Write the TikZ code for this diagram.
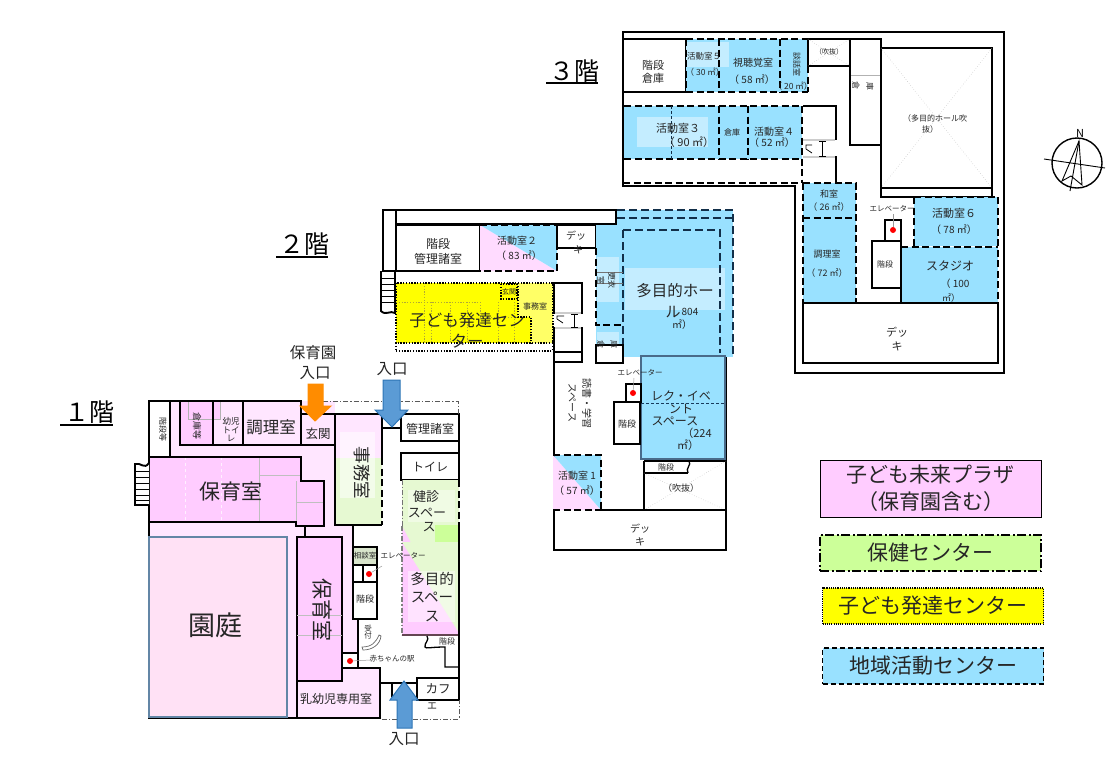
\documentclass[tikz,border=0pt]{standalone}
\usepackage{fontspec}
\setmainfont{Noto Sans CJK JP}
\definecolor{plazaDeep}{HTML}{FFCCFF}
\definecolor{plazaLight}{HTML}{FFE6FF}
\definecolor{gardenPink}{HTML}{FFE1F5}
\definecolor{healthGreen}{HTML}{CCFF99}
\definecolor{healthLight}{HTML}{E6F9D2}
\definecolor{growYellow}{HTML}{FFFF00}
\definecolor{growLight}{HTML}{FFFF66}
\definecolor{localBlue}{HTML}{99E1FF}
\definecolor{localLight}{HTML}{C4EDFF}
\definecolor{arrowBlue}{HTML}{5B9BD5}
\definecolor{arrowEdge}{HTML}{2E75B6}
\definecolor{arrowOrange}{HTML}{FF8C00}
\tikzset{
	wall/.style={draw=black,line width=1.9pt},
	thinwall/.style={draw=black,line width=1.3pt},
	dashwall/.style={draw=black,line width=1.9pt,dash pattern=on 7pt off 3.5pt},
	bluedash/.style={draw=black!60!arrowEdge,line width=1.7pt,dash pattern=on 8pt off 4pt},
	dotwall/.style={draw=black,line width=1.4pt,dash pattern=on 1.4pt off 1.4pt},
	griddot/.style={draw=olive!70!white,line width=.8pt,dash pattern=on 1.2pt off 1.6pt},
	dashdot/.style={draw=black!65,line width=1pt,dash pattern=on 5pt off 2pt on 1.2pt off 2pt},
	faint/.style={draw=black!25,line width=.5pt,dotted},
	lead/.style={draw=black!40,line width=.5pt},
	reddot/.style={circle,fill=red,inner sep=0,minimum size=6pt},
	tx/.style={inner sep=0,align=center,text=black!85,font=\fontsize{#1}{#1}\selectfont},
	rt/.style={tx=#1,rotate=-90},
	floorlabel/.style={inner sep=0,font=\fontsize{25}{25}\selectfont},
	downarrow/.style={draw=arrowEdge,fill=arrowBlue,line width=1pt},
	orangearrow/.style={draw=arrowOrange,fill=arrowOrange,line width=1pt},
	legendbox/.style={minimum width=221pt,inner sep=0,align=center,text=black!85,font=\fontsize{21}{27}\selectfont}
}
\begin{document}
\begin{tikzpicture}[x=1pt,y=-1pt]
\useasboundingbox (0,0) rectangle (1106,780);
% floor titles
\node[floorlabel] (fone) at (89,412) {１階};
\draw[thinwall] (60,425) -- (113,425);
\node[floorlabel] (ftwo) at (304,244) {２階};
\draw[thinwall] (276,257) -- (328,257);
\node[floorlabel] (fthree) at (574,71) {３階};
\draw[thinwall] (546,83) -- (598,83);

% 1st floor fills
\fill[plazaLight] (149,445) -- (335,445) -- (335,525) -- (353,525) -- (353,619) -- (358,619) -- (358,653) -- (342,653)
	-- (342,718) -- (149,718) -- cycle;
\fill[plazaLight] (170,401) rectangle (335,445);
\fill[plazaDeep] (149,457) -- (301,457) -- (301,481) -- (324,481) -- (324,526) -- (296,526) -- (296,522) -- (149,522) -- cycle;
\draw[draw=black!25,line width=.8pt] (259,457) -- (259,522) (259,475) -- (301,475) (296,481) -- (296,522) (296,502) -- (324,502);
\draw[draw=white!70!plazaDeep,line width=.8pt,dashed] (185,457) -- (185,522) (221,457) -- (221,522);
\fill[plazaDeep] (180,401) rectangle (213,445);
\draw[draw=black!30,line width=.8pt,fill=plazaDeep] (188,401) -- (188,419) -- (220,419) -- (220,401);
\draw[wall,fill=white] (149,401) rectangle (170,457);
\draw[wall] (180,401) rectangle (213,445);
\draw[wall] (213,401) rectangle (243,445);
\draw[wall] (243,401) rectangle (301,445);
\draw[wall] (149,457) -- (301,457) -- (301,481) -- (324,481) -- (324,526) -- (296,526) -- (296,522) -- (149,522) -- cycle;
\draw[wall] (170,401) -- (180,401);
\draw[thinwall] (301,414) -- (335,414) -- (335,445) -- (301,445);
% office
\fill[plazaLight] (335,414) rectangle (382,458);
\fill[healthLight] (335,458) rectangle (382,525);
\fill[white,opacity=.55] (340,432) rectangle (375,498);
\draw[wall] (382,458) -- (382,414) -- (335,414) -- (335,525) -- (382,525);
\draw[dashwall] (382,458) -- (382,525);
% stairs at the west side
\draw[wall,fill=white] (149,463) .. controls (144,470) and (141,462) .. (135,464) -- (135,505) -- (149,505);
\foreach \ry in {471,477,483,489,495,500} {
	\draw[thinwall,line width=1pt] (135,\ry) -- (149,\ry);
}
% garden and south rooms
\draw[wall] (149,522) -- (149,718) -- (297,718);
\draw[draw=arrowEdge!70!black!70,line width=1.5pt,fill=gardenPink] (149,537) rectangle (287,717);
\draw[thinwall] (305,526) -- (305,537);
\draw[wall,fill=plazaDeep] (297,537) -- (342,537) -- (342,681) -- (297,681) -- cycle;
\draw[draw=black!25,line width=.8pt] (297,615) -- (342,615) (297,635) -- (342,635);
\draw[wall,fill=plazaLight] (297,681) -- (342,681) -- (342,668) -- (380,668) -- (380,718) -- (297,718) -- cycle;
\draw[wall,fill=white] (342,653) rectangle (358,668);
\draw[thinwall] (358,653) -- (358,619);
\draw[thinwall] (353,526) -- (353,547);
\draw[thinwall,fill=healthGreen!70!black!35] (353,547) rectangle (377,565);
\draw[thinwall,fill=white] (353,565) rectangle (363,582);
\draw[thinwall,fill=white] (363,565) rectangle (377,582);
\draw[thinwall,fill=white] (353,582) rectangle (377,619);
\node[reddot] (elevOne) at (369,574) {};
\node[reddot] (babyDot) at (350,661) {};
\draw[lead] (elevOne) -- (382,566);
\draw[lead] (babyDot) -- (371,660);
\draw[draw=black!60,line width=.7pt,fill=white] (362,647) .. controls (372,647) and (376,642) .. (379,635) -- (381,636) .. controls (380,645) and (372,650) .. (363,650) -- cycle;
% east rooms
\draw[wall] (382,428) -- (401,428);
\draw[wall,fill=white] (401,414) rectangle (459,441);
\draw[wall,fill=white] (401,453) rectangle (459,480);
\draw[wall] (459,441) -- (459,453);
\draw[dashdot] (323,401) -- (458,401) -- (458,414);
% health and multipurpose space
\fill[healthLight] (402,480) rectangle (459,545);
\fill[healthLight!60!white] (408,490) rectangle (455,522);
\fill[healthGreen] (435,525) rectangle (459,542);
\fill[plazaDeep] (402,526) -- (459,633) -- (459,635) -- (402,635) -- cycle;
\fill[healthLight] (402,542) -- (435,542) -- (459,542) -- (459,633) -- cycle;
\fill[white,opacity=.45] (408,571) rectangle (455,622);
\draw[dashdot,draw=black!55] (402,480) -- (402,526);
\draw[dashwall,line width=1.2pt] (459,480) -- (459,526);
\draw[dashdot,draw=black!50,line width=1.4pt] (402,526) -- (402,635);
\draw[draw=black!70!magenta,line width=1.4pt] (402,635) -- (459,635);
\draw[thinwall] (459,526) -- (459,700);
\draw[thinwall] (427,636) .. controls (430,640) and (424,643) .. (425,647) .. controls (426,649) and (430,647) .. (445,647) -- (445,667) -- (459,667);
\draw[thinwall,fill=white] (417,678) rectangle (459,700);
\draw[wall] (380,683) -- (417,683);
\draw[wall] (392,683) -- (392,697);
\draw[dashdot] (382,719) -- (459,719) -- (459,700);
% entrance arrows
\draw[orangearrow] (308,384) -- (323,384) -- (323,406) -- (331,406) -- (315,421) -- (300,406) -- (308,406) -- cycle;
\draw[downarrow] (383,380) -- (400,380) -- (400,410) -- (408,410) -- (392,427) -- (375,410) -- (383,410) -- cycle;
\draw[downarrow] (397,728) -- (412,728) -- (412,700) -- (418,700) -- (404,681) -- (390,700) -- (397,700) -- cycle;

% 2nd floor
\draw[wall] (383,210) rectangle (396,271);
\draw[wall] (396,210) rectangle (616,224);
\draw[wall] (396,225) rectangle (480,271);
\fill[plazaDeep!70!white] (480,225) -- (557,271) -- (480,271) -- cycle;
\fill[localBlue] (480,225) -- (557,225) -- (557,271) -- cycle;
\draw[dashwall] (480,225) -- (557,225) -- (557,271) -- (480,271);
\draw[wall] (557,225) rectangle (596,248);
% stairs at the north wing
\draw[wall] (381,271) -- (381,311) .. controls (386,316) and (390,310) .. (395,313) -- (395,271);
\foreach \ry in {278,284,290,296,302} {
	\draw[thinwall,line width=1pt] (381,\ry) -- (395,\ry);
}
% yellow part
\fill[growYellow] (396,283) rectangle (553,343);
\fill[growLight] (518,283) -- (553,283) -- (553,343) -- (531,343) -- (531,317) -- (518,317) -- cycle;
\foreach \gx in {424,431,450,467,498,514} {
	\draw[griddot] (\gx,302) -- (\gx,343);
}
\draw[griddot] (424,283) -- (424,302) (396,302) -- (480,302) (480,302) -- (480,317) (480,317) -- (518,317);
\draw[dotwall] (396,283) rectangle (553,343);
\draw[dotwall] (396,351) -- (553,351);
\draw[dotwall] (396,343) -- (396,351) (553,343) -- (553,351);
\draw[dotwall] (501,284) rectangle (517,299);
\draw[dotwall] (518,283) -- (518,317) -- (531,317) -- (531,343);
% hall
\fill[localBlue] (617,210) rectangle (733,357);
\fill[localBlue] (596,225) rectangle (623,325);
\fill[localBlue] (596,325) rectangle (623,346);
\fill[localLight] (625,268) rectangle (725,310);
\fill[localLight] (597,257) rectangle (619,302);
\fill[localLight] (597,332) rectangle (619,347);
\draw[bluedash] (617,210) -- (733,210) -- (733,357);
\draw[bluedash] (617,218) -- (733,218);
\draw[bluedash] (623,230) -- (720,230) -- (720,353);
\draw[bluedash] (623,230) -- (623,357);
\draw[dashwall] (596,248) -- (596,325) -- (623,325);
\draw[draw=black!55,line width=.8pt] (597,272) -- (623,272) (597,283) -- (623,283);
\draw[wall,fill=white] (596,345) rectangle (623,363);
% core
\draw[wall,fill=white] (554,283) rectangle (582,313);
\draw[wall,fill=white] (554,328) rectangle (582,352);
\draw[wall,fill=white] (554,352) rectangle (582,362);
\draw[draw=black!20,line width=2pt] (555,313) -- (581,313) (555,328) -- (581,328);
\draw[draw=black,line width=.7pt] (557,319) -- (557,316) -- (564,316) (557,319) -- (563,323);
\draw[draw=black,line width=.7pt] (571,314) -- (578,314) (574,314) -- (574,327) (571,327) -- (578,327);
% lower wing
\draw[wall] (554,362) -- (554,550);
\draw[wall] (726,357) -- (726,510);
\draw[draw=arrowEdge!60!black!80,line width=1.5pt,fill=localBlue] (641,356) rectangle (725,459);
\draw[draw=arrowEdge!50!black,line width=1pt,dash pattern=on 3pt off 2pt] (641,403) -- (725,403);
\draw[wall,fill=white] (626,384) rectangle (641,402);
\draw[wall,fill=white] (614,402) rectangle (640,444);
\node[reddot] (elevTwo) at (633,393) {};
\draw[lead] (elevTwo) -- (634,378);
\fill[plazaDeep!70!white] (553,455) -- (601,510) -- (553,510) -- cycle;
\fill[localBlue] (553,455) -- (601,455) -- (601,510) -- cycle;
\draw[dashwall] (553,455) -- (601,455) -- (601,510);
\draw[dashwall] (553,510) -- (601,510);
\draw[wall] (644,461) -- (644,510);
\draw[wall] (644,461) -- (726,461);
\draw[wall] (644,473) -- (688,473);
\draw[thinwall] (689,461) .. controls (692,465) and (685,468) .. (688,473);
\draw[faint] (644,473) -- (726,510) (644,510) -- (726,461);
\draw[wall] (601,510) -- (726,510) -- (726,550) -- (554,550) -- (554,510);

% 3rd floor
\draw[wall] (623,186) -- (623,32) -- (1004,32) -- (1004,373) -- (795,373) -- (795,186) -- cycle;
\draw[wall] (623,39) rectangle (686,92);
\fill[localBlue] (686,39) rectangle (808,92);
\fill[localLight] (686,42) rectangle (729,67);
\draw[dashwall] (686,39) -- (808,39) (686,39) -- (686,92) (719,39) -- (719,92) (780,39) -- (780,92) (686,92) -- (808,92) (808,66) -- (808,92);
\draw[wall] (808,39) rectangle (850,66);
\draw[faint] (808,39) -- (850,66) (808,66) -- (850,39);
\draw[wall] (850,39) rectangle (881,145);
\draw[draw=black!30,line width=1pt] (851,75) -- (880,75);
\draw[wall] (881,48) rectangle (992,188);
\draw[faint] (881,48) -- (992,188) (881,188) -- (992,48);
\draw[wall] (881,188) rectangle (992,197);
\fill[localBlue] (624,106) rectangle (802,159);
\fill[localLight] (637,117) rectangle (708,147);
\draw[dashwall] (624,106) -- (802,106) (719,106) -- (719,159) (748,106) -- (748,159) (624,159) -- (802,159);
\draw[dashwall] (802,106) -- (802,183);
\draw[bluedash,line width=1pt,dash pattern=on 3pt off 2pt] (671,106) -- (671,159);
\draw[dashwall] (623,183) -- (805,183);
\draw[wall] (803,106) -- (836,106) -- (836,140);
\draw[wall] (803,157) -- (836,157) -- (836,183);
\draw[draw=black!20,line width=1.5pt] (803,140) -- (835,140) (803,157) -- (835,157);
\draw[draw=black,line width=.7pt] (806,149) -- (806,145) -- (812,145) (806,149) -- (812,153);
\draw[draw=black,line width=.7pt] (819,141) -- (826,141) (822,141) -- (822,156) (819,156) -- (826,156);
\fill[localBlue] (803,183) rectangle (856,303);
\draw[dashwall] (803,183) -- (856,183) -- (856,303) (803,183) -- (803,303) (803,218) -- (856,218);
\fill[localBlue] (914,197) rectangle (998,246);
\fill[localBlue] (901,247) rectangle (998,303);
\draw[dashwall] (914,197) -- (998,197) -- (998,303) (914,197) -- (914,246) (901,247) -- (998,247);
\draw[wall] (803,303) rectangle (998,363);
\draw[wall] (901,241) -- (901,303);
\draw[wall,fill=white] (885,220) rectangle (901,241);
\draw[wall,fill=white] (872,241) rectangle (901,288);
\node[reddot] (elevThree) at (893,230) {};
\draw[lead] (elevThree) -- (893,214);

% compass
\draw[line width=1.4pt] (1077,163) circle (25);
\draw[thinwall,line width=.9pt] (1044,159) -- (1105,168);
\draw[thinwall,line width=.9pt] (1079,141) -- (1062,181) -- (1071,176) -- (1082,185) -- cycle;
\draw[thinwall,line width=.9pt] (1079,141) -- (1070,191);
\node[inner sep=0,font=\fontsize{11}{11}\selectfont] (north) at (1080,133) {N};

% legend
\node[legendbox,draw=black,line width=1pt,fill=plazaDeep,minimum height=57pt] (keyPlaza) at (930.5,488.5) {子ども未来プラザ\\（保育園含む）};
\node[legendbox,draw=black,line width=1.2pt,dash pattern=on 9pt off 2.5pt on 2pt off 2.5pt,fill=healthGreen,minimum height=36pt] (keyHealth) at (930.5,553) {保健センター};
\node[legendbox,dotwall,line width=1.1pt,dash pattern=on 1.1pt off 1.1pt,fill=growYellow,minimum height=36pt] (keyGrow) at (933,606) {子ども発達センター};
\node[legendbox,draw=black,line width=1.2pt,dash pattern=on 5pt off 3pt,fill=localBlue,minimum height=36pt] (keyLocal) at (933,666) {地域活動センター};

% 1st floor labels
\node[tx=15.5] at (313,353) {保育園};
\node[tx=15.5] at (315,373) {入口};
\node[tx=15.5] at (392,369) {入口};
\node[tx=15.5] at (404,739) {入口};
\node[rt=8] at (163,429) {階段等};
\node[rt=9] at (197,426) {倉庫等};
\node[tx=8.5] at (231,430) {幼児\\トイ\\レ};
\node[tx=16.5] at (271,427) {調理室};
\node[tx=12.5] at (318,434) {玄関};
\node[tx=12] at (430,429) {管理諸室};
\node[tx=12] at (430,467) {トイレ};
\node[tx=21] at (231,491) {保育室};
\node[rt=17.5] at (362,473) {事務室};
\node[tx=13] at (426,497) {健診};
\node[tx=13] at (427,513) {スペー};
\node[tx=13] at (429,527) {ス};
\node[tx=27] at (215,625) {園庭};
\node[rt=21] at (322,610) {保育室};
\node[tx=12] at (336,699) {乳幼児専用室};
\node[tx=7.5] (soudan) at (365,556) {相談室};
\node[tx=7.5] at (403,556) {エレベーター};
\node[tx=9] at (365,599) {階段};
\node[tx=14.5,font=\fontsize{14.5}{18.5}\selectfont] at (432,597) {多目的\\スペー\\ス};
\node[tx=7.5] at (368,632) {受\\付};
\node[tx=7.5] at (392,659) {赤ちゃんの駅};
\node[tx=8] at (447,641) {階段};
\node[tx=12.5] at (438,689) {カフ};
\node[tx=10] at (432,706) {エ};

% 2nd floor labels
\node[tx=12,font=\fontsize{12}{15}\selectfont] at (438,251) {階段\\管理諸室};
\node[tx=10] at (517,241) {活動室２};
\node[tx=10] at (519,256) {（ 83 ㎡）};
\node[tx=10] at (576,236) {デッ};
\node[tx=10] at (578,250) {キ};
\node[tx=16.5] at (467,320) {子ども発達セン};
\node[tx=16.5] at (467,341) {ター};
\node[tx=7] at (509,292) {玄関};
\node[tx=8] at (535,306) {事務室};
\node[tx=15.5] at (675,291) {多目的ホー};
\node[tx=15] at (673,312) {ル};
\node[tx=10] at (690,312) {804};
\node[tx=10] at (682,325) {㎡）};
\node[rt=8] at (612,280) {更衣};
\node[rt=8] at (601,280) {室};
\node[rt=8] at (601,344) {倉};
\node[rt=8] at (614,344) {庫};
\node[rt=10] at (587,403) {読書・学習};
\node[rt=10] at (572,403) {スペース};
\node[tx=7.5] at (640,373) {エレベーター};
\node[tx=9] at (627,424) {階段};
\node[tx=12] at (681,396) {レク・イベ};
\node[tx=12] at (681,409) {ント};
\node[tx=12] at (675,421) {スペース};
\node[tx=11] at (697,433) {（224};
\node[tx=11] at (688,445) {㎡）};
\node[tx=10] at (577,476) {活動室 1};
\node[tx=10] at (577,491) {（ 57 ㎡）};
\node[tx=8] at (666,467) {階段};
\node[tx=9] at (681,488) {（吹抜）};
\node[tx=10] at (640,529) {デッ};
\node[tx=10] at (640,542) {キ};

% 3rd floor labels
\node[tx=11,font=\fontsize{11}{13}\selectfont] at (653,72) {階段\\倉庫};
\node[tx=8.5] at (704,56) {活動室５};
\node[tx=8.5] at (705,72) {（ 30 ㎡）};
\node[tx=10] at (753,63) {視聴覚室};
\node[tx=10] at (752,80) {（ 58 ㎡）};
\node[rt=8] at (797,64) {談話室};
\node[tx=8.5] at (793,86) {（ 20 ㎡）};
\node[tx=7] at (829,52) {（吹抜）};
\node[rt=8] at (856,85) {倉};
\node[rt=8] at (870,86) {庫};
\node[tx=8] at (935,118) {（多目的ホール吹};
\node[tx=8] at (930,129) {抜）};
\node[tx=11] at (678,128) {活動室３};
\node[tx=11] at (689,142) {（ 90 ㎡）};
\node[tx=8] at (732,132) {倉庫};
\node[tx=10] at (774,132) {活動室４};
\node[tx=10] at (772,143) {（ 52 ㎡）};
\node[tx=9] at (829,194) {和室};
\node[tx=9] at (829,207) {（ 26 ㎡）};
\node[tx=9] at (827,254) {調理室};
\node[tx=9] at (827,273) {（ 72 ㎡）};
\node[tx=11] at (954,213) {活動室６};
\node[tx=10] at (954,230) {（ 78 ㎡）};
\node[tx=12] at (950,266) {スタジオ};
\node[tx=10] at (955,284) {（ 100};
\node[tx=9] at (951,298) {㎡）};
\node[tx=7.5] at (892,209) {エレベーター};
\node[tx=8] at (885,264) {階段};
\node[tx=11] at (897,332) {デッ};
\node[tx=11] at (897,346) {キ};
\end{tikzpicture}
\end{document}
